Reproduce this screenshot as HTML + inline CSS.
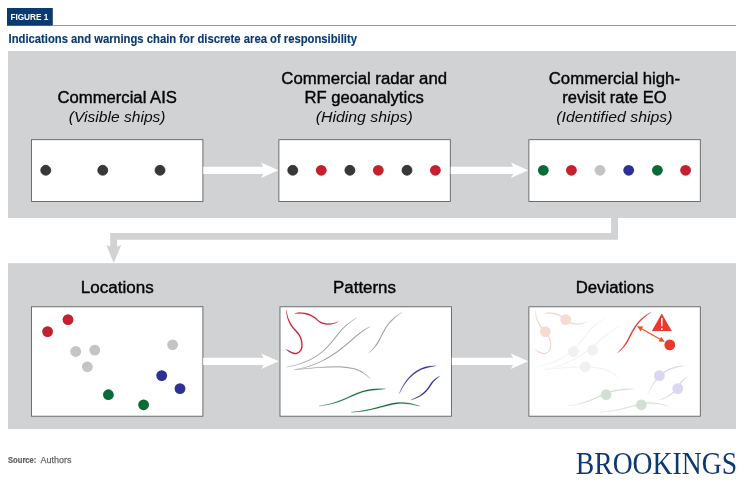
<!DOCTYPE html>
<html lang="en"><head><meta charset="utf-8"><title>Figure 1</title>
<style>
html,body{margin:0;padding:0;background:#fff}
svg{display:block;will-change:transform}
text{font-family:"Liberation Sans",sans-serif}
.t{font-size:15.8px;fill:#050505;text-anchor:middle;stroke:#050505;stroke-width:0.38px}
.i{font-size:15.1px;font-style:italic;fill:#0a0a0a;text-anchor:middle}
.serif{font-family:"Liberation Serif",serif}
</style></head><body>
<svg width="745" height="490" viewBox="0 0 745 490">
<rect width="745" height="490" fill="#fff"/>

<rect x="7" y="8" width="45.8" height="17.8" fill="#0b3a72"/>
<rect x="52" y="25" width="684" height="0.9" fill="#7a8fb8"/>
<text x="10.4" y="20.1" font-size="9.4" font-weight="bold" fill="#fff" textLength="38" lengthAdjust="spacingAndGlyphs">FIGURE 1</text>
<text x="8.5" y="43.4" font-size="13" font-weight="bold" fill="#0b3a72" stroke="#0b3a72" stroke-width="0.15" textLength="348.5" lengthAdjust="spacingAndGlyphs">Indications and warnings chain for discrete area of responsibility</text>
<rect x="8" y="51" width="728" height="167" fill="#d1d2d4"/>
<rect x="8" y="263.2" width="728" height="165.9" fill="#d1d2d4"/>
<path d="M611.1 217V233.1H110.2V246.8L106.3 245L113.7 262.9L121.2 245L117.1 246.8V239.7H618V217Z" fill="#d1d2d4"/>
<text x="117.2" y="103.2" class="t" textLength="119.5" lengthAdjust="spacingAndGlyphs">Commercial AIS</text>
<text x="117.2" y="122" class="i" textLength="96.75" lengthAdjust="spacingAndGlyphs">(Visible ships)</text>

<text x="364.2" y="83.8" class="t" textLength="165.75" lengthAdjust="spacingAndGlyphs">Commercial radar and</text>
<text x="364.2" y="103.1" class="t" textLength="119.25" lengthAdjust="spacingAndGlyphs">RF geoanalytics</text>
<text x="364.2" y="122" class="i" textLength="97" lengthAdjust="spacingAndGlyphs">(Hiding ships)</text>

<text x="614.4" y="83.8" class="t" textLength="131.25" lengthAdjust="spacingAndGlyphs">Commercial high-</text>
<text x="614.4" y="103.1" class="t" textLength="104.25" lengthAdjust="spacingAndGlyphs">revisit rate EO</text>
<text x="614.4" y="122" class="i" textLength="116.25" lengthAdjust="spacingAndGlyphs">(Identified ships)</text>

<rect x="31.5" y="139.7" width="171.4" height="61.8" fill="#fff" stroke="#58595b" stroke-width="0.85"/>
<rect x="278.9" y="139.7" width="171.4" height="61.8" fill="#fff" stroke="#58595b" stroke-width="0.85"/>
<rect x="528.9" y="139.7" width="171.4" height="61.8" fill="#fff" stroke="#58595b" stroke-width="0.85"/>
<path d="M203.3 166.70000000000002H263.2L261.0 162.5L278.4 170.3L261.0 178.10000000000002L263.2 173.9H203.3Z" fill="#fff"/>
<path d="M450.7 166.70000000000002H513.0999999999999L510.9 162.5L528.3 170.3L510.9 178.10000000000002L513.0999999999999 173.9H450.7Z" fill="#fff"/>
<circle cx="45.75" cy="170.3" r="5.0" fill="#38383a" stroke="#242426" stroke-width="0.7"/>
<circle cx="102.75" cy="170.3" r="5.0" fill="#38383a" stroke="#242426" stroke-width="0.7"/>
<circle cx="160" cy="170.3" r="5.0" fill="#38383a" stroke="#242426" stroke-width="0.7"/>
<circle cx="292.75" cy="170.3" r="5.0" fill="#38383a" stroke="#242426" stroke-width="0.7"/>
<circle cx="321.25" cy="170.3" r="5.4" fill="#c4202f" />
<circle cx="349.9" cy="170.3" r="5.0" fill="#38383a" stroke="#242426" stroke-width="0.7"/>
<circle cx="378.3" cy="170.3" r="5.4" fill="#c4202f" />
<circle cx="407" cy="170.3" r="5.0" fill="#38383a" stroke="#242426" stroke-width="0.7"/>
<circle cx="435.4" cy="170.3" r="5.4" fill="#c4202f" />
<circle cx="543.3" cy="170.3" r="5.4" fill="#0a6a37" />
<circle cx="571.4" cy="170.3" r="5.4" fill="#c4202f" />
<circle cx="600" cy="170.3" r="5.4" fill="#c3c4c6" />
<circle cx="628.7" cy="170.3" r="5.4" fill="#2e3192" />
<circle cx="657.4" cy="170.3" r="5.4" fill="#0a6a37" />
<circle cx="685.6" cy="170.3" r="5.4" fill="#c4202f" />
<text x="117.2" y="293.2" class="t" textLength="73" lengthAdjust="spacingAndGlyphs">Locations</text>

<text x="364.5" y="293.2" class="t" textLength="63" lengthAdjust="spacingAndGlyphs">Patterns</text>

<text x="614.8" y="293.2" class="t" textLength="78.2" lengthAdjust="spacingAndGlyphs">Deviations</text>

<rect x="31.5" y="306.8" width="171.4" height="109.4" fill="#fff" stroke="#58595b" stroke-width="0.85"/>
<rect x="280.0" y="306.8" width="171.4" height="109.4" fill="#fff" stroke="#58595b" stroke-width="0.85"/>
<rect x="528.9" y="306.8" width="171.4" height="109.4" fill="#fff" stroke="#58595b" stroke-width="0.85"/>
<path d="M203.2 357.7H263.5L261.3 353.5L278.7 361.3L261.3 369.1L263.5 364.90000000000003H203.2Z" fill="#fff"/>
<path d="M451.8 357.7H513.0L510.80000000000007 353.5L528.2 361.3L510.80000000000007 369.1L513.0 364.90000000000003H451.8Z" fill="#fff"/>
<circle cx="47.6" cy="331.6" r="5.4" fill="#c4202f" />
<circle cx="68.0" cy="319.6" r="5.4" fill="#c4202f" />
<circle cx="75.7" cy="351.5" r="5.4" fill="#c3c4c6" />
<circle cx="94.8" cy="350.1" r="5.4" fill="#c3c4c6" />
<circle cx="87.4" cy="366.8" r="5.4" fill="#c3c4c6" />
<circle cx="172.6" cy="344.8" r="5.4" fill="#c3c4c6" />
<circle cx="161.7" cy="375.6" r="5.4" fill="#2e3192" />
<circle cx="180.0" cy="388.6" r="5.4" fill="#2e3192" />
<circle cx="108.4" cy="394.7" r="5.4" fill="#0a6a37" />
<circle cx="143.6" cy="404.8" r="5.4" fill="#0a6a37" />
<path d="M286.32 310.06C286.40 318.16 289.41 325.53 295.58 331.45C300.52 336.37 301.90 342.21 301.24 347.12C300.55 351.90 296.46 354.04 293.29 352.61C290.17 351.71 288.40 350.18 286.05 349.33C287.68 351.13 289.63 352.78 292.88 353.74C296.60 355.23 301.53 352.60 302.43 347.29C303.10 342.12 301.56 335.76 296.42 330.59C290.39 324.84 287.56 317.88 286.32 310.06Z" fill="#c4202f" stroke="#c4202f" stroke-width="0.2" stroke-linejoin="round"/>
<path d="M294.57 313.70C297.93 313.31 304.37 313.04 310.73 315.99C315.27 318.23 317.35 321.11 320.10 322.78C324.26 325.24 332.48 325.51 338.64 321.52C332.22 324.33 324.52 324.07 320.72 321.75C318.17 320.24 316.00 317.28 311.25 314.91C304.61 311.86 297.78 312.12 294.57 313.70Z" fill="#c4202f" stroke="#c4202f" stroke-width="0.2" stroke-linejoin="round"/>
<path d="M286.45 367.11C315.26 362.17 326.03 350.65 337.98 334.71C343.25 327.58 349.82 322.33 356.76 317.76C349.37 321.67 342.67 327.03 337.34 334.23C325.41 350.14 314.95 361.43 286.45 367.11Z" fill="#98999b" stroke="#98999b" stroke-width="0.2" stroke-linejoin="round"/>
<path d="M293.88 369.76C323.22 365.88 341.90 349.36 355.17 337.42C360.45 332.93 365.72 329.24 370.29 326.51C365.31 328.56 359.96 332.30 354.64 336.83C341.37 348.77 322.91 365.15 293.88 369.76Z" fill="#98999b" stroke="#98999b" stroke-width="0.2" stroke-linejoin="round"/>
<path d="M295.21 369.76C317.80 367.50 341.62 365.38 354.79 369.35C361.35 371.44 366.58 375.37 370.29 378.78C367.11 374.77 361.72 370.73 355.02 368.58C341.66 364.58 317.72 366.71 295.21 369.76Z" fill="#98999b" stroke="#98999b" stroke-width="0.2" stroke-linejoin="round"/>
<path d="M368.70 352.91C374.29 348.81 377.53 344.50 380.47 338.63C383.91 331.74 386.02 328.06 388.92 324.10C392.86 319.10 397.58 315.43 402.40 312.18C397.13 314.77 392.30 318.53 388.28 323.62C385.35 327.62 383.20 331.37 379.75 338.27C376.85 344.08 373.72 348.25 368.70 352.91Z" fill="#98999b" stroke="#98999b" stroke-width="0.2" stroke-linejoin="round"/>
<path d="M319.08 405.84C339.18 404.82 349.88 396.03 363.03 392.09C370.90 389.99 378.80 389.99 385.42 388.86C378.76 388.79 370.74 388.80 362.70 390.94C349.31 394.97 338.79 403.68 319.08 405.84Z" fill="#0a6a37" stroke="#0a6a37" stroke-width="0.2" stroke-linejoin="round"/>
<path d="M350.92 412.21C370.95 412.00 384.27 405.36 397.42 403.79C405.27 402.99 413.13 404.83 419.91 406.11C413.42 403.67 405.35 401.80 397.29 402.59C383.91 404.21 370.69 410.83 350.92 412.21Z" fill="#0a6a37" stroke="#0a6a37" stroke-width="0.2" stroke-linejoin="round"/>
<path d="M399.21 393.64C405.83 381.21 410.98 374.75 421.49 369.51C426.69 367.42 431.91 366.91 435.83 365.78C431.78 365.71 426.39 366.26 420.98 368.42C410.26 373.79 404.80 380.60 399.21 393.64Z" fill="#2e3192" stroke="#2e3192" stroke-width="0.2" stroke-linejoin="round"/>
<path d="M410.62 400.01C421.52 397.35 427.01 391.88 431.04 385.19C433.63 380.76 436.95 378.22 439.81 376.13C436.30 377.21 432.72 379.98 430.00 384.58C426.07 391.15 420.95 396.29 410.62 400.01Z" fill="#2e3192" stroke="#2e3192" stroke-width="0.2" stroke-linejoin="round"/>

<path d="M535.02 310.06C535.15 318.15 538.15 325.50 544.32 331.42C549.27 336.34 550.65 342.21 549.99 347.13C549.30 351.93 545.17 354.09 541.97 352.66C538.85 351.76 537.07 350.22 534.75 349.33C536.41 351.09 538.35 352.74 541.60 353.69C545.30 355.18 550.19 352.57 551.08 347.29C551.75 342.13 550.22 335.79 545.09 330.63C539.05 324.87 536.22 317.89 535.02 310.06Z" fill="#f5d3ca" stroke="#f5d3ca" stroke-width="0.2" stroke-linejoin="round"/>
<path d="M543.27 313.70C546.63 313.26 553.08 312.99 559.46 315.94C564.00 318.19 566.08 321.07 568.83 322.74C572.97 325.19 581.17 325.46 587.34 321.52C580.93 324.38 573.21 324.12 569.39 321.80C566.84 320.28 564.67 317.32 559.93 314.95C553.30 311.91 546.49 312.17 543.27 313.70Z" fill="#f5d3ca" stroke="#f5d3ca" stroke-width="0.2" stroke-linejoin="round"/>
<path d="M535.15 367.11C563.96 362.17 574.73 350.65 586.68 334.71C591.95 327.58 598.52 322.33 605.46 317.76C598.07 321.67 591.37 327.03 586.04 334.23C574.11 350.14 563.65 361.43 535.15 367.11Z" fill="#eff1f0" stroke="#eff1f0" stroke-width="0.2" stroke-linejoin="round"/>
<path d="M542.58 369.76C571.92 365.88 590.60 349.36 603.87 337.42C609.15 332.93 614.42 329.24 618.99 326.51C614.01 328.56 608.66 332.30 603.34 336.83C590.07 348.77 571.61 365.15 542.58 369.76Z" fill="#eff1f0" stroke="#eff1f0" stroke-width="0.2" stroke-linejoin="round"/>
<path d="M543.91 369.76C566.50 367.50 590.32 365.38 603.49 369.35C610.05 371.44 615.28 375.37 618.99 378.78C615.81 374.77 610.42 370.73 603.72 368.58C590.36 364.58 566.42 366.71 543.91 369.76Z" fill="#eff1f0" stroke="#eff1f0" stroke-width="0.2" stroke-linejoin="round"/>
<path d="M567.78 405.84C587.86 404.77 598.56 395.98 611.71 392.04C619.60 389.94 627.50 389.94 634.12 388.86C627.46 388.84 619.45 388.85 611.41 390.99C598.04 395.01 587.51 403.73 567.78 405.84Z" fill="#d2ded2" stroke="#d2ded2" stroke-width="0.2" stroke-linejoin="round"/>
<path d="M599.62 412.21C619.64 411.95 632.95 405.31 646.12 403.74C653.98 402.94 661.84 404.78 668.61 406.11C662.11 403.72 654.05 401.85 645.99 402.64C632.63 404.26 619.40 410.88 599.62 412.21Z" fill="#d2ded2" stroke="#d2ded2" stroke-width="0.2" stroke-linejoin="round"/>
<path d="M647.91 393.64C654.49 381.18 659.65 374.71 670.17 369.46C675.37 367.37 680.61 366.86 684.53 365.78C680.48 365.76 675.11 366.31 669.70 368.47C658.99 373.83 653.54 380.62 647.91 393.64Z" fill="#dad6ef" stroke="#dad6ef" stroke-width="0.2" stroke-linejoin="round"/>
<path d="M659.32 400.01C670.19 397.31 675.67 391.85 679.69 385.16C682.29 380.73 685.62 378.18 688.51 376.13C685.03 377.26 681.45 380.02 678.75 384.60C674.81 391.18 669.67 396.34 659.32 400.01Z" fill="#dad6ef" stroke="#dad6ef" stroke-width="0.2" stroke-linejoin="round"/>

<circle cx="545.3" cy="331.6" r="5.4" fill="#f6dbd3" />
<circle cx="565.6999999999999" cy="319.6" r="5.4" fill="#f6dbd3" />
<circle cx="573.4" cy="351.5" r="5.4" fill="#eff2f0" />
<circle cx="592.5" cy="350.1" r="5.4" fill="#eff2f0" />
<circle cx="585.1" cy="366.8" r="5.4" fill="#eff2f0" />
<circle cx="659.4" cy="375.6" r="5.4" fill="#dbd7f0" />
<circle cx="677.7" cy="388.6" r="5.4" fill="#dbd7f0" />
<circle cx="606.1" cy="394.7" r="5.4" fill="#d3dfd2" />
<circle cx="641.3" cy="404.8" r="5.4" fill="#d3dfd2" />
<path d="M617.40 352.91C623.13 348.95 626.40 344.60 629.35 338.72C632.79 331.83 634.88 328.17 637.78 324.22C641.70 319.24 646.39 315.60 651.10 312.18C645.72 314.61 640.85 318.39 636.82 323.49C633.88 327.51 631.73 331.27 628.27 338.18C625.38 343.98 622.28 348.11 617.40 352.91Z" fill="#ea3a2e" stroke="#ea3a2e" stroke-width="0.2" stroke-linejoin="round"/>

<circle cx="669.8" cy="344.9" r="5.4" fill="#ea3a2e" />
<path d="M661.75 313.5L671.8 331H651.8Z" fill="#ea3a2e"/>
<text x="661.75" y="329.9" font-size="16.5" fill="#fff" text-anchor="middle">!</text>
<path d="M639.5 327.6L662.3 340.4" stroke="#f04e23" stroke-width="1.1" fill="none"/>
<path d="M637 326.2L643.2 326.6L640.6 331.2Z" fill="#f04e23"/>
<path d="M664.8 341.8L658.6 341.4L661.2 336.8Z" fill="#f04e23"/>
<text x="8" y="463.1" font-size="9.7" font-weight="bold" fill="#5f6062" stroke="#5f6062" stroke-width="0.2" textLength="28.4" lengthAdjust="spacingAndGlyphs">Source:</text>
<text x="40.6" y="463.1" font-size="9.7" fill="#66676a" stroke="#66676a" stroke-width="0.25" textLength="31" lengthAdjust="spacingAndGlyphs">Authors</text>
<text x="575.8" y="474.3" class="serif" font-size="31" fill="#0b3a72" textLength="161.2" lengthAdjust="spacingAndGlyphs">BROOKINGS</text>
</svg></body></html>
